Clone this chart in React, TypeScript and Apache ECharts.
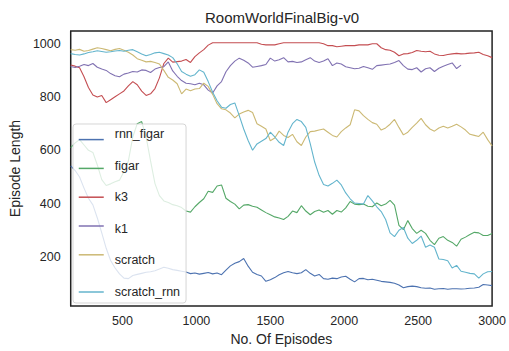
import React, { useEffect, useRef } from "react";
import * as echarts from "echarts";

// Episode index shared by every run (running-mean sample points)
const episodes = [
  150, 180, 210, 240, 270, 300, 330, 360, 390, 420,
  450, 480, 510, 540, 570, 600, 630, 660, 690, 720,
  750, 780, 810, 840, 870, 900, 930, 960, 990, 1020,
  1050, 1080, 1110, 1140, 1170, 1200, 1230, 1260, 1290, 1320,
  1350, 1380, 1410, 1440, 1470, 1500, 1530, 1560, 1590, 1620,
  1650, 1680, 1710, 1740, 1770, 1800, 1830, 1860, 1890, 1920,
  1950, 1980, 2010, 2040, 2070, 2100, 2130, 2160, 2190, 2220,
  2250, 2280, 2310, 2340, 2370, 2400, 2430, 2460, 2490, 2520,
  2550, 2580, 2610, 2640, 2670, 2700, 2730, 2760, 2790, 2820,
  2850, 2880, 2910, 2940, 2970, 3000,
];

const rnnFigar = [
  542, 524, 500, 458, 420, 395, 346, 290, 232, 186,
  158, 136, 120, 118, 130, 134, 138, 142, 144, 148,
  154, 161, 157, 152, 149, 146, 143, 137, 139, 135,
  138, 141, 136, 139, 133, 150, 166, 176, 182, 194,
  165, 142, 134, 128, 108, 114, 122, 133, 140, 145,
  140, 137, 140, 152, 138, 128, 134, 118, 116, 120,
  118, 124, 127, 116, 106, 118, 119, 114, 116, 112,
  108, 106, 104, 101, 94, 84, 88, 90, 88, 84,
  82, 83, 78, 80, 81, 78, 80, 80, 79, 80,
  82, 83, 86, 96, 94, 92,
];

const figar = [
  610, 628, 640, 620, 600, 592, 545, 490, 468, 474,
  482, 488, 520, 560, 650, 700, 708, 650, 560, 475,
  430, 410, 404, 396, 392, 385, 372, 368, 388, 404,
  418, 446, 442, 466, 470, 420, 408, 398, 380, 394,
  396, 390, 386, 376, 366, 358, 350, 346, 340, 352,
  372, 366, 392, 372, 358, 370, 376, 367, 374, 360,
  374, 368, 384, 408, 398, 396, 398, 390, 388, 402,
  392, 398, 412, 394, 318, 302, 336, 306, 288, 300,
  288, 262, 246, 270, 276, 262, 254, 240, 266, 274,
  284, 292, 290, 280, 280, 288,
];

const k3 = [
  920, 916, 910, 876, 836, 808, 800, 806, 779, 790,
  801, 812, 823, 842, 858, 846, 822, 806, 812, 832,
  872, 926, 946, 931, 933, 935, 941, 930, 952, 966,
  978, 995, 1004, 1004, 1004, 1004, 1004, 1004, 1004, 1004,
  1004, 1004, 1004, 998, 996, 996, 996, 1000, 1004, 1004,
  1004, 1004, 1004, 1004, 1004, 1004, 1004, 1000, 993, 993,
  989, 991, 993, 993, 993, 996, 996, 996, 1000, 1000,
  985, 978, 976, 968, 955, 962, 963, 967, 975, 972,
  970, 972, 962, 957, 956, 960, 962, 964, 962, 963,
  965, 966, 968, 960, 955, 948,
];

// k1 stops after 2790 episodes
const k1 = [
  915, 911, 916, 922, 918, 926, 912, 905, 900, 888,
  880, 876, 886, 890, 896, 894, 902, 900, 892, 905,
  911, 914, 932, 898, 878, 862, 852, 850, 846, 852,
  846, 826, 815, 842, 858, 895, 918, 935, 946, 938,
  928, 912, 915, 918, 922, 946, 935, 940, 948, 932,
  934, 930, 932, 940, 948, 935, 930, 935, 944, 918,
  928, 924, 914, 910, 906, 908, 915, 910, 904, 918,
  920, 922, 924, 930, 937, 918, 905, 903, 910, 894,
  906, 910, 896, 908, 916, 922, 928, 907, 920,
];

const scratch = [
  978, 976, 979, 972, 975, 980, 985, 982, 978, 974,
  979, 982, 976, 968, 958, 944, 938, 932, 934, 930,
  924, 900, 874, 864, 850, 812, 830, 824, 830, 832,
  852, 840, 810, 775, 756, 752, 740, 722, 736, 744,
  750, 742, 700, 690, 680, 636, 646, 672, 656, 648,
  660, 632, 618, 650, 670, 672, 676, 680, 668, 656,
  650, 670, 684, 696, 752, 748, 730, 716, 704, 698,
  676, 684, 698, 716, 686, 658, 668, 686, 702, 720,
  696, 680, 672, 684, 690, 684, 690, 698, 688, 676,
  660, 656, 652, 668, 640, 616,
];

const scratchRnn = [
  963, 960, 958, 962, 967, 970, 974, 971, 968, 970,
  973, 975, 972, 976, 978, 970, 962, 955, 960, 966,
  968, 963, 958, 948, 925, 896, 886, 878, 884, 902,
  893, 858, 818, 786, 762, 758, 772, 778, 730, 680,
  637, 600, 624, 634, 644, 668, 650, 630, 618, 668,
  700, 716, 708, 686, 625, 556, 506, 472, 466, 476,
  488, 470, 440, 418, 402, 400, 398, 430, 410, 388,
  370, 340, 290, 276, 300, 310, 270, 250, 262, 278,
  236, 244, 236, 192, 190, 185, 158, 168, 146, 142,
  138, 136, 120, 136, 144, 145,
];

const seriesNames = ["rnn_figar", "figar", "k3", "k1", "scratch", "scratch_rnn"];
const seriesValues = [rnnFigar, figar, k3, k1, scratch, scratchRnn];
const seriesColors = ["#4C72B0", "#55A868", "#C44E52", "#8172B2", "#CCB974", "#64B5CD"];

const xTicks = [500, 1000, 1500, 2000, 2500, 3000];
const yTicks = [200, 400, 600, 800, 1000];

const FONT = "'Liberation Sans', Arial, 'DejaVu Sans', sans-serif";
const INK = "#262626";

export default function App() {
  const ref = useRef<HTMLDivElement>(null);

  useEffect(() => {
    if (!ref.current) return;
    const chart = echarts.init(ref.current, undefined, { renderer: "svg" });

    const series = seriesNames.map((name, s) => ({
      name,
      type: "line",
      data: seriesValues[s].map((v, i) => [episodes[i], v]),
      symbol: "none",
      showSymbol: false,
      lineStyle: { width: 1.1, color: seriesColors[s] },
      itemStyle: { color: seriesColors[s] },
      emphasis: { disabled: true },
    }));

    const legendBase = {
      orient: "vertical",
      left: 73,
      padding: [3, 6, 4, 5],
      itemWidth: 25,
      itemHeight: 14,
      itemGap: 17.6,
      itemStyle: { opacity: 0 },
      lineStyle: { width: 1.5 },
    };

    const plain = (v: number) => String(v);

    chart.setOption({
      animation: false,
      textStyle: { fontFamily: FONT, color: INK },
      title: {
        text: "RoomWorldFinalBig-v0",
        left: 282,
        textAlign: "center",
        top: 10,
        padding: 0,
        textStyle: { fontFamily: FONT, fontSize: 15, fontWeight: "normal", color: INK },
      },
      grid: {
        left: 67,
        right: 12,
        top: 31,
        bottom: 41,
        show: true,
        borderColor: "#222",
        borderWidth: 1.5,
        backgroundColor: "transparent",
      },
      xAxis: {
        type: "value",
        min: 150,
        max: 3000,
        name: "No. Of Episodes",
        nameLocation: "middle",
        nameGap: 23,
        nameTextStyle: { fontFamily: FONT, fontSize: 14, color: INK },
        axisLine: { show: false },
        axisTick: { show: false },
        splitLine: { show: false },
        axisLabel: {
          customValues: xTicks,
          formatter: plain,
          margin: 8,
          fontFamily: FONT,
          fontSize: 12.5,
          color: INK,
        },
      },
      yAxis: {
        type: "value",
        min: 15,
        max: 1048,
        name: "Episode Length",
        nameLocation: "middle",
        nameGap: 43,
        nameTextStyle: { fontFamily: FONT, fontSize: 14, color: INK },
        axisLine: { show: false },
        axisTick: { show: false },
        splitLine: { show: false },
        axisLabel: {
          customValues: yTicks,
          formatter: plain,
          margin: 10,
          fontFamily: FONT,
          fontSize: 12.5,
          color: INK,
        },
      },
      legend: [
        // framed legend carrying the labels (and the last handle)
        {
          ...legendBase,
          top: 124,
          backgroundColor: "rgba(255,255,255,0.8)",
          borderColor: "rgba(204,204,204,0.8)",
          borderWidth: 1,
          borderRadius: 3,
          textStyle: {
            fontFamily: FONT,
            fontSize: 12.5,
            color: INK,
            lineHeight: 14,
            padding: [0, 0, 0, 6],
          },
          data: seriesNames.map((name, i) =>
            i < seriesNames.length - 1
              ? { name, itemStyle: { opacity: 0 }, lineStyle: { opacity: 0 } }
              : { name }
          ),
        },
        // handles sitting slightly below their labels
        {
          ...legendBase,
          top: 131,
          formatter: () => "",
          textStyle: { fontSize: 12.5, lineHeight: 14 },
          data: seriesNames.slice(0, seriesNames.length - 1),
        },
      ],
      series,
    });

    return () => chart.dispose();
  }, []);

  return (
    <div
      ref={ref}
      style={{ position: "absolute", left: 0, top: 0, width: 509, height: 351, background: "#fff" }}
    />
  );
}
